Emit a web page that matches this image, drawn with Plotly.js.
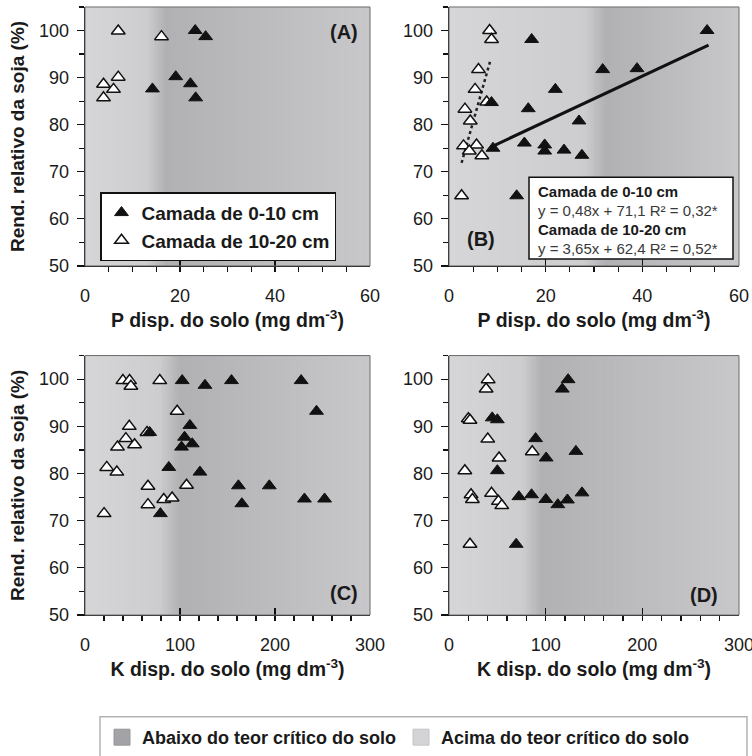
<!DOCTYPE html>
<html><head><meta charset="utf-8">
<script src="https://cdn.plot.ly/plotly-3.0.1.min.js"></script>
<style>html,body{margin:0;padding:0;background:#fff}</style>
</head><body><div id="chart" style="width:752px;height:756px"></div>
<script>
// ---------- DATA ----------
const seriesNames = ["Camada de 0-10 cm", "Camada de 10-20 cm"];
const regionNames = ["Abaixo do teor crítico do solo", "Acima do teor crítico do solo"];
const panelLabels = ["(A)", "(B)", "(C)", "(D)"];
const yTitle = "Rend. relativo da soja (%)";
const xTitleP = "P disp. do solo (mg dm<sup>-3</sup>)";
const xTitleK = "K disp. do solo (mg dm<sup>-3</sup>)";

// Panel A - P
const A_x_010 = [23.2, 25.4, 19.1, 14.2, 22.2, 23.3];
const A_y_010 = [100.0, 98.7, 90.2, 87.6, 88.7, 85.7];
const A_x_1020 = [7.0, 16.1, 3.9, 7.0, 6.0, 3.9];
const A_y_1020 = [99.9, 98.7, 88.6, 90.1, 87.5, 85.7];

// Panel B - P
const B_x_010 = [53.4, 17.1, 31.8, 38.9, 22.0, 8.8, 16.4, 26.9, 9.1, 15.6, 19.8, 19.8, 23.8, 27.5, 14.0];
const B_y_010 = [100.0, 98.1, 91.7, 91.9, 87.5, 84.7, 83.4, 80.8, 75.0, 76.1, 75.7, 74.4, 74.6, 73.5, 64.9];
const B_x_1020 = [8.4, 8.8, 6.1, 5.4, 7.8, 3.3, 4.4, 3.0, 5.7, 4.2, 6.8, 2.6];
const B_y_1020 = [100.0, 98.1, 91.7, 87.5, 84.8, 83.3, 80.8, 75.5, 75.7, 74.4, 73.4, 64.9];
// Fitted equations in panel B: [slope, intercept] and x span of the drawn line
const B_fit010_coef = [0.48, 71.1];
const B_fit010_xspan = [9.1, 53.7];
const B_fit1020_coef = [3.65, 62.4];
const B_fit1020_xspan = [2.6, 8.6];
const B_fitText = [
  "<b>Camada de 0-10 cm</b>",
  "y = 0,48x + 71,1 R² = 0,32*",
  "<b>Camada de 10-20 cm</b>",
  "y = 3,65x + 62,4 R² = 0,52*"
];

// Panel C - K
const C_x_010 = [102.3, 126.3, 154.2, 227.5, 243.7, 110.4, 68.1, 104.8, 101.6, 112.9, 88.2, 121.0, 161.5, 194.0, 231.0, 252.2, 165.1, 79.4];
const C_y_010 = [99.7, 98.7, 99.7, 99.7, 93.2, 90.2, 88.7, 87.7, 85.6, 86.3, 81.3, 80.3, 77.4, 77.4, 74.6, 74.6, 73.6, 71.5];
const C_x_1020 = [39.9, 46.9, 48.3, 78.7, 97.0, 46.6, 65.3, 43.0, 34.2, 52.2, 22.9, 33.5, 66.3, 106.9, 66.3, 82.9, 91.7, 20.1];
const C_y_1020 = [99.7, 99.7, 98.5, 99.7, 93.2, 90.0, 88.7, 87.4, 85.6, 86.1, 81.3, 80.3, 77.3, 77.5, 73.4, 74.5, 74.8, 71.5];

// Panel D - K
const D_x_010 = [123.2, 117.2, 44.7, 50.0, 89.6, 131.3, 100.5, 50.0, 72.3, 85.4, 100.2, 112.6, 122.5, 137.6, 69.5];
const D_y_010 = [99.9, 97.9, 91.8, 91.4, 87.4, 84.7, 83.3, 80.6, 75.1, 75.5, 74.5, 73.4, 74.4, 75.9, 65.0];
const D_x_1020 = [40.5, 38.4, 20.0, 21.7, 40.1, 86.1, 51.8, 16.4, 22.8, 24.2, 44.0, 51.1, 54.6, 21.7];
const D_y_1020 = [99.9, 97.9, 91.6, 91.3, 87.3, 84.6, 83.3, 80.6, 75.5, 74.5, 75.8, 74.1, 73.2, 65.0];

// Critical soil level zone (start and end of the shaded transition, x units) per panel
const criticalZone = [[13, 17], [28, 32.5], [78, 100], [76, 96]];
const xMax = [60, 60, 300, 300];

// ---------- LAYOUT HELPERS ----------
const W = 752, H = 756;
const px = v => v / W;
const py = v => 1 - v / H;
const domX = [[px(85), px(370)], [px(449), px(739)], [px(85), px(370)], [px(449), px(739)]];
const domY = [[py(267), py(7)], [py(267), py(7)], [py(617.5), py(357)], [py(617.5), py(357)]];
const FONT = "Liberation Sans, Arial, sans-serif";
const INK = "#1a1a1a";

const axKeys = [["x", "y"], ["x2", "y2"], ["x3", "y3"], ["x4", "y4"]];

const layout = {
  width: W, height: H,
  margin: {l: 0, r: 0, t: 0, b: 0},
  paper_bgcolor: "#ffffff",
  plot_bgcolor: "rgba(0,0,0,0)",
  showlegend: true,
  font: {family: FONT, color: INK, size: 16},
  shapes: [],
  annotations: [],
  legend: {
    x: px(100), y: py(193), xanchor: "left", yanchor: "top",
    bgcolor: "#ffffff", bordercolor: "#111", borderwidth: 1.5,
    font: {family: FONT, size: 19, color: INK, weight: "bold"},
    traceorder: "grouped", tracegroupgap: 0,
    itemwidth: 30, entrywidth: 215, entrywidthmode: "pixels"
  },
  legend2: {
    orientation: "h",
    x: px(102), y: py(722), xanchor: "left", yanchor: "top",
    bgcolor: "rgba(0,0,0,0)", borderwidth: 0,
    font: {family: FONT, size: 18, color: INK, weight: "bold"},
    itemwidth: 30
  }
};

function hexLerp(a, b, t) {
  const pa = [1, 3, 5].map(i => parseInt(a.substr(i, 2), 16));
  const pb = [1, 3, 5].map(i => parseInt(b.substr(i, 2), 16));
  const c = pa.map((v, i) => Math.round(v + (pb[i] - v) * t));
  return "rgb(" + c.join(",") + ")";
}
const LIGHT0 = "#d6d6d8", LIGHT1 = "#cdcdcf", DARK0 = "#b1b1b4", DARK1 = "#c8c8cb";

for (let p = 0; p < 4; p++) {
  const xa = p === 0 ? "xaxis" : "xaxis" + (p + 1);
  const ya = p === 0 ? "yaxis" : "yaxis" + (p + 1);
  const isP = p < 2;
  layout[xa] = {
    domain: domX[p], anchor: axKeys[p][1], range: [0, xMax[p]],
    tick0: 0, dtick: isP ? 20 : 100,
    ticks: "inside", ticklen: 7, tickwidth: 1.2, tickcolor: "#111",
    minor: {dtick: isP ? 5 : 20, ticks: "outside", ticklen: 5, tickwidth: 1.2, tickcolor: "#111"},
    showline: true, linecolor: "#111", linewidth: 1.3,
    showgrid: false, zeroline: false,
    tickfont: {family: FONT, size: 18, color: INK},
    ticklabelstandoff: 13,
    ticklabeloverflow: "allow",
    title: {text: isP ? xTitleP : xTitleK, standoff: 8,
            font: {family: FONT, size: 19.5, color: INK, weight: "bold"}},
    fixedrange: true
  };
  layout[ya] = {
    domain: domY[p], anchor: axKeys[p][0], range: [50, 105],
    tick0: 50, dtick: 10,
    ticks: "outside", ticklen: 7, tickwidth: 1.2, tickcolor: "#111",
    minor: {dtick: 5, ticks: "outside", ticklen: 5, tickwidth: 1.2, tickcolor: "#111"},
    showline: true, linecolor: "#111", linewidth: 1.3,
    showgrid: false, zeroline: false,
    tickfont: {family: FONT, size: 18, color: INK},
    ticklabelstandoff: 4,
    ticklabeloverflow: "allow",
    fixedrange: true
  };
  if (p % 2 === 0) {
    layout[ya].title = {text: yTitle, standoff: 9,
      font: {family: FONT, size: 19, color: INK, weight: "bold"}};
  }

  // background gradient strips
  const N = 90;
  const [L, Dz] = criticalZone[p];
  const xm = xMax[p];
  const xr = axKeys[p][0], yr = axKeys[p][1] + " domain";
  for (let i = 0; i < N; i++) {
    const x0 = xm * i / N, x1 = xm * (i + 1) / N;
    const v = (x0 + x1) / 2;
    let col;
    if (v < L) col = hexLerp(LIGHT0, LIGHT1, v / L);
    else if (v < Dz) col = hexLerp(LIGHT1, DARK0, (v - L) / (Dz - L));
    else col = hexLerp(DARK0, DARK1, (v - Dz) / (xm - Dz));
    layout.shapes.push({type: "rect", xref: xr, yref: yr, x0: x0, x1: Math.min(xm, x1 + xm / N * 0.6),
      y0: 0, y1: 1, fillcolor: col, line: {width: 0}, layer: "below"});
  }
  // thin frame
  layout.shapes.push({type: "rect", xref: xr + " domain", yref: yr, x0: 0, x1: 1, y0: 0, y1: 1,
    fillcolor: "rgba(0,0,0,0)", line: {color: "#6a6a6a", width: 1}, layer: "above"});
}

// panel labels
const lblPos = [
  {x: 0.965, y: 0.904, xanchor: "right"},
  {x: 0.055, y: 0.104, xanchor: "left"},
  {x: 0.965, y: 0.086, xanchor: "right"},
  {x: 0.935, y: 0.079, xanchor: "right"}
];
for (let p = 0; p < 4; p++) {
  layout.annotations.push({
    xref: axKeys[p][0] + " domain", yref: axKeys[p][1] + " domain",
    x: lblPos[p].x, y: lblPos[p].y, xanchor: lblPos[p].xanchor, yanchor: "middle",
    text: panelLabels[p], showarrow: false,
    font: {family: FONT, size: 20, color: INK, weight: "bold"}
  });
}

// equation box in panel B
layout.shapes.push({type: "rect", xref: "paper", yref: "paper",
  x0: px(529), x1: px(733), y0: py(260), y1: py(178),
  fillcolor: "#ffffff", line: {color: "#111", width: 1.5}, layer: "above"});
const eqLineY = [192, 211, 230, 249];
for (let i = 0; i < 4; i++) {
  layout.annotations.push({
    xref: "paper", yref: "paper", x: px(536), y: py(eqLineY[i]),
    xanchor: "left", yanchor: "middle", showarrow: false, text: B_fitText[i],
    font: {family: FONT, size: 15, color: i % 2 === 0 ? INK : "#3a3a3a"}
  });
}

// bottom legend frame
layout.shapes.push({type: "rect", xref: "paper", yref: "paper",
  x0: px(100), x1: px(747), y0: py(775), y1: py(719.5),
  fillcolor: "rgba(0,0,0,0)", line: {color: "#b4b4b4", width: 1.5}, layer: "above"});

// ---------- TRACES ----------
const filledMarker = {symbol: "triangle-up", size: 12, color: "#111111", line: {color: "#111111", width: 1}};
const openMarker = {symbol: "triangle-up", size: 12, color: "#ffffff", line: {color: "#111111", width: 1.5}};

const panelData = [
  [A_x_010, A_y_010, A_x_1020, A_y_1020],
  [B_x_010, B_y_010, B_x_1020, B_y_1020],
  [C_x_010, C_y_010, C_x_1020, C_y_1020],
  [D_x_010, D_y_010, D_x_1020, D_y_1020]
];
const traces = [];

// fit lines in B (drawn under markers)
function fitLine(coef, span) {
  return {x: span, y: span.map(v => coef[0] * v + coef[1])};
}
const f1 = fitLine(B_fit010_coef, B_fit010_xspan);
const f2 = fitLine(B_fit1020_coef, B_fit1020_xspan);
traces.push({type: "scatter", mode: "lines", x: f1.x, y: f1.y, xaxis: "x2", yaxis: "y2",
  line: {color: "#111", width: 3}, showlegend: false, hoverinfo: "skip"});
traces.push({type: "scatter", mode: "lines", x: f2.x, y: f2.y, xaxis: "x2", yaxis: "y2",
  line: {color: "#222", width: 2.5, dash: "dot"}, showlegend: false, hoverinfo: "skip"});

for (let p = 0; p < 4; p++) {
  const d = panelData[p];
  traces.push({type: "scatter", mode: "markers", x: d[2], y: d[3],
    xaxis: axKeys[p][0], yaxis: axKeys[p][1], name: seriesNames[1],
    marker: openMarker, showlegend: p === 0, legendgroup: "g2", legendrank: 2});
  traces.push({type: "scatter", mode: "markers", x: d[0], y: d[1],
    xaxis: axKeys[p][0], yaxis: axKeys[p][1], name: seriesNames[0],
    marker: filledMarker, showlegend: p === 0, legendgroup: "g1", legendrank: 1});
}

// region legend entries (bottom)
traces.push({type: "scatter", mode: "markers", x: [null], y: [null], xaxis: "x", yaxis: "y",
  name: regionNames[0], legend: "legend2",
  marker: {symbol: "square", size: 16, color: "#a3a3a7", line: {color: "#98989c", width: 1}}});
traces.push({type: "scatter", mode: "markers", x: [null], y: [null], xaxis: "x", yaxis: "y",
  name: regionNames[1], legend: "legend2",
  marker: {symbol: "square", size: 16, color: "#d4d4d6", line: {color: "#c6c6c8", width: 1}}});

Plotly.newPlot("chart", traces, layout, {staticPlot: true, displayModeBar: false});
</script>
</body></html>
